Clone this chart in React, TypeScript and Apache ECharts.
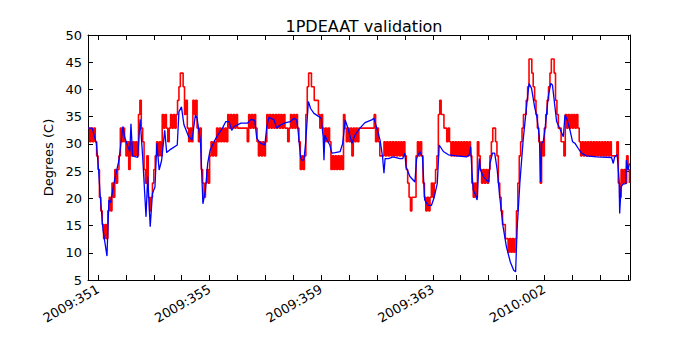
import React, { useEffect, useRef } from "react";
import * as echarts from "echarts";

const TITLE = "1PDEAAT validation";
const Y_NAME = "Degrees (C)";
const X_MIN = 350.64;
const X_MAX = 370.07;
const labelDays = [351, 355, 359, 363, 367];
const tickDays = [351, 352, 353, 354, 355, 356, 357, 358, 359, 360, 361, 362, 363, 364, 365, 366, 367, 368, 369, 370];

// Telemetry (red): sampled every 0.05 day starting at RED_START
const RED_START = 350.65;
const RED_STEP = 0.05;
const redValues = [
  32.9,30.4,32.9,30.4,32.9,30.4,27.8,
  25.3,20.2,17.7,15.2,12.6,15.2,12.6,17.7,20.2,17.7,22.8,20.2,25.3,22.8,25.3,27.8,32.9,30.4,32.9,30.4,
  27.8,30.4,25.3,30.4,27.8,30.4,27.8,30.4,27.8,35.4,38.0,32.9,30.4,25.3,22.8,27.8,20.2,17.7,20.2,22.8,
  25.3,27.8,30.4,27.8,30.4,27.8,35.4,32.9,35.4,32.9,30.4,32.9,35.4,32.9,35.4,32.9,35.4,38.0,40.5,43.0,
  43.0,40.5,35.4,38.0,32.9,30.4,32.9,30.4,38.0,35.4,38.0,32.9,30.4,32.9,25.3,22.8,20.2,22.8,25.3,22.8,
  27.8,30.4,27.8,30.4,27.8,32.9,30.4,32.9,30.4,32.9,30.4,32.9,30.4,35.4,32.9,35.4,32.9,35.4,32.9,35.4,
  32.9,32.9,32.9,32.9,32.9,32.9,32.9,30.4,35.4,32.9,35.4,32.9,35.4,32.9,30.4,27.8,30.4,27.8,30.4,27.8,
  30.4,35.4,32.9,35.4,32.9,35.4,32.9,35.4,32.9,35.4,32.9,35.4,32.9,35.4,32.9,32.9,30.4,32.9,35.4,32.9,
  35.4,32.9,35.4,32.9,30.4,25.3,27.8,25.3,27.8,35.4,40.5,43.0,43.0,40.5,40.5,38.0,38.0,38.0,35.4,32.9,
  35.4,32.9,30.4,32.9,30.4,32.9,30.4,25.3,27.8,25.3,27.8,25.3,27.8,25.3,27.8,25.3,35.4,32.9,30.4,32.9,
  30.4,32.9,27.8,32.9,30.4,32.9,30.4,32.9,32.9,32.9,32.9,32.9,32.9,32.9,32.9,32.9,32.9,32.9,35.4,30.4,
  32.9,30.4,27.8,27.8,27.8,30.4,27.8,30.4,27.8,30.4,27.8,30.4,27.8,30.4,27.8,30.4,27.8,30.4,27.8,30.4,
  27.8,25.3,22.8,20.2,17.7,20.2,20.2,20.2,27.8,30.4,27.8,30.4,27.8,22.8,20.2,17.7,20.2,17.7,20.2,22.8,
  20.2,22.8,25.3,27.8,35.4,38.0,35.4,35.4,32.9,32.9,30.4,32.9,30.4,27.8,30.4,27.8,30.4,27.8,30.4,27.8,
  30.4,27.8,30.4,27.8,30.4,27.8,30.4,27.8,22.8,20.2,22.8,20.2,30.4,27.8,25.3,22.8,25.3,22.8,25.3,22.8,
  25.3,27.8,30.4,32.9,32.9,30.4,27.8,22.8,20.2,17.7,15.2,15.2,12.6,12.6,10.1,12.6,10.1,12.6,10.1,12.6,
  17.7,22.8,27.8,30.4,32.9,35.4,35.4,38.0,40.5,45.6,45.6,43.0,40.5,38.0,35.4,32.9,30.4,22.8,30.4,27.8,
  32.9,35.4,38.0,40.5,43.0,45.6,45.6,43.0,38.0,35.4,32.9,32.9,30.4,30.4,27.8,35.4,32.9,35.4,32.9,35.4,
  32.9,35.4,32.9,35.4,32.9,30.4,27.8,30.4,27.8,30.4,27.8,30.4,27.8,30.4,27.8,30.4,27.8,30.4,27.8,30.4,
  27.8,30.4,27.8,30.4,27.8,30.4,27.8,30.4,27.8,27.8,27.8,27.8,30.4,22.8,20.2,25.3,22.8,25.3,22.8,27.8,
  25.3,22.8,
];

// Model (blue): [day, degC]
const bluePoints: [number, number][] = [
  [350.65, 32.9],[350.79, 32.9],[350.94, 30.1],[351.02, 25.2],[351.08, 20.3],[351.18, 14.1],
  [351.32, 9.4],[351.39, 19.7],[351.45, 19.2],[351.59, 23.3],[351.75, 27.0],[351.89, 33.2],
  [351.95, 31.3],[352.07, 29.5],[352.14, 28.6],[352.18, 33.7],[352.24, 27.8],[352.42, 27.5],
  [352.51, 34.5],[352.60, 27.6],[352.72, 16.6],[352.78, 24.0],[352.87, 14.8],[352.95, 20.9],
  [353.04, 22.1],[353.11, 30.1],[353.19, 25.2],[353.28, 27.0],[353.39, 32.5],[353.46, 28.4],
  [353.60, 29.0],[353.84, 29.8],[353.90, 35.9],[353.99, 36.8],[354.08, 33.5],[354.25, 31.3],
  [354.37, 30.7],[354.49, 35.3],[354.55, 34.7],[354.67, 30.7],[354.76, 19.0],[354.85, 21.5],
  [354.93, 26.4],[355.02, 28.9],[355.17, 30.5],[355.29, 31.6],[355.46, 32.9],[355.58, 34.1],
  [355.70, 34.1],[355.79, 32.5],[355.88, 33.2],[356.12, 33.8],[356.36, 33.8],[356.48, 34.5],
  [356.62, 34.3],[356.69, 31.0],[356.83, 30.1],[356.98, 29.8],[357.05, 33.2],[357.13, 34.9],
  [357.31, 34.4],[357.40, 32.9],[357.55, 33.5],[357.73, 33.9],[357.90, 34.1],[358.02, 34.7],
  [358.12, 34.4],[358.17, 32.5],[358.26, 27.6],[358.30, 27.0],[358.38, 27.0],[358.44, 30.1],
  [358.54, 37.8],[358.62, 36.5],[358.74, 35.6],[358.92, 35.0],[359.00, 34.7],[359.07, 31.3],
  [359.10, 27.0],[359.13, 31.6],[359.21, 30.7],[359.31, 29.8],[359.38, 28.3],[359.50, 28.4],
  [359.68, 28.6],[359.77, 30.1],[359.86, 34.4],[359.98, 32.5],[360.10, 30.1],[360.21, 31.6],
  [360.39, 32.9],[360.57, 33.9],[360.81, 34.4],[360.89, 34.7],[360.96, 33.5],[361.11, 30.7],
  [361.20, 27.6],[361.25, 24.6],[361.29, 27.3],[361.41, 27.3],[361.58, 27.6],[361.82, 27.3],
  [361.92, 27.3],[362.00, 28.3],[362.04, 25.8],[362.18, 24.0],[362.36, 23.0],[362.42, 27.3],
  [362.54, 28.6],[362.63, 27.6],[362.71, 19.7],[362.83, 18.7],[362.95, 18.7],[363.04, 20.0],
  [363.16, 22.7],[363.23, 29.8],[363.38, 28.6],[363.56, 28.0],[363.86, 27.8],[364.21, 27.6],
  [364.31, 28.0],[364.36, 29.5],[364.40, 25.2],[364.45, 21.5],[364.53, 20.6],[364.59, 19.7],
  [364.63, 24.0],[364.67, 27.3],[364.71, 25.2],[364.81, 24.0],[364.93, 23.3],[365.01, 23.0],
  [365.05, 26.4],[365.14, 28.3],[365.22, 28.3],[365.31, 25.2],[365.40, 20.3],[365.52, 14.8],
  [365.64, 11.1],[365.78, 8.3],[365.90, 6.8],[365.97, 6.5],[366.02, 14.1],[366.12, 22.7],
  [366.24, 30.7],[366.36, 36.8],[366.45, 41.1],[366.54, 40.2],[366.65, 36.8],[366.73, 35.0],
  [366.82, 31.3],[366.87, 23.0],[366.90, 30.1],[366.96, 30.4],[367.02, 32.5],[367.14, 38.7],
  [367.23, 41.1],[367.29, 40.8],[367.35, 38.1],[367.44, 34.1],[367.58, 32.5],[367.68, 31.3],
  [367.74, 35.3],[367.82, 34.4],[367.92, 32.5],[368.01, 30.4],[368.10, 30.1],[368.21, 29.2],
  [368.33, 28.3],[368.51, 27.8],[368.87, 27.6],[369.41, 27.5],[369.47, 26.4],[369.52, 27.6],
  [369.61, 28.0],[369.68, 23.3],[369.70, 17.2],[369.75, 22.1],[369.82, 22.6],[369.92, 22.7],
  [369.94, 27.0],[370.00, 25.2],[370.05, 26.4],
];

const FONT = "DejaVu Sans";

function dayLabel(v: number): string {
  const d = Math.round(v);
  if (d <= 365) return "2009:" + String(d).padStart(3, "0");
  return "2010:" + String(d - 365).padStart(3, "0");
}

export default function App() {
  const ref = useRef<HTMLDivElement>(null);
  useEffect(() => {
    if (!ref.current) return;
    const chart = echarts.init(ref.current, null, { renderer: "svg" });
    const redData = redValues.map((v, i) => [RED_START + i * RED_STEP, v]);
    const axisLine = { show: true, lineStyle: { color: "#000", width: 1 } };
    const tick = { show: true, inside: true, length: 5, lineStyle: { color: "#000", width: 1 } };
    chart.setOption({
      animation: false,
      backgroundColor: "#fff",
      title: {
        text: TITLE,
        left: 359,
        textAlign: "center",
        top: 13,
        textStyle: { fontFamily: FONT, fontSize: 16, fontWeight: "normal", color: "#000" },
      },
      grid: { left: 88, right: 70, top: 35, bottom: 70 },
      xAxis: [
        {
          type: "value",
          min: X_MIN,
          max: X_MAX,
          position: "bottom",
          axisLine,
          axisTick: { ...tick, customValues: tickDays },
          splitLine: { show: false },
          axisLabel: {
            customValues: labelDays,
            formatter: (v: number) => dayLabel(v),
            rotate: 30,
            margin: 8,
            fontFamily: FONT,
            fontSize: 13,
            color: "#000",
          },
        },
        {
          type: "value",
          min: X_MIN,
          max: X_MAX,
          position: "top",
          axisLine,
          axisTick: { ...tick, customValues: tickDays },
          splitLine: { show: false },
          axisLabel: { show: false, customValues: tickDays },
        },
      ],
      yAxis: [
        {
          type: "value",
          min: 5,
          max: 50,
          interval: 5,
          position: "left",
          name: Y_NAME,
          nameLocation: "middle",
          nameGap: 33,
          nameTextStyle: { fontFamily: FONT, fontSize: 13, color: "#000" },
          axisLine,
          axisTick: tick,
          splitLine: { show: false },
          axisLabel: { fontFamily: FONT, fontSize: 13, color: "#000", margin: 6 },
        },
        {
          type: "value",
          min: 5,
          max: 50,
          interval: 5,
          position: "right",
          axisLine,
          axisTick: tick,
          splitLine: { show: false },
          axisLabel: { show: false },
        },
      ],
      series: [
        {
          type: "line",
          data: redData,
          xAxisIndex: 0,
          yAxisIndex: 0,
          showSymbol: false,
          symbol: "none",
          step: "end",
          lineStyle: { color: "#ff0000", width: 1.6 },
          z: 2,
        },
        {
          type: "line",
          data: bluePoints,
          xAxisIndex: 0,
          yAxisIndex: 0,
          showSymbol: false,
          symbol: "none",
          lineStyle: { color: "#0000ff", width: 1.3 },
          z: 3,
        },
      ],
    });
    return () => chart.dispose();
  }, []);
  return (
    <div
      ref={ref}
      style={{ position: "fixed", left: 0, top: 0, width: 700, height: 350, background: "#fff" }}
    />
  );
}
